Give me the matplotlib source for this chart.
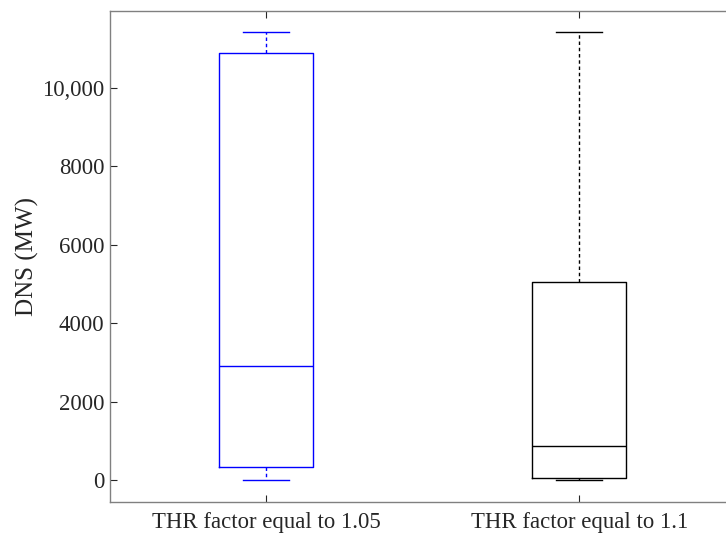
import matplotlib
matplotlib.use("Agg")
import matplotlib.pyplot as plt

# box statistics (MW)
labels = ["THR factor equal to 1.05", "THR factor equal to 1.1"]
whislo = [0, 5]
q1 = [331, 51]
med = [2912, 866]
q3 = [10879, 5052]
whishi = [11414, 11414]
colors = ["#0000ff", "#000000"]

yticks = [0, 2000, 4000, 6000, 8000, 10000]
ytick_labels = ["0", "2000", "4000", "6000", "8000", "10,000"]

plt.rcParams['font.family'] = ['Liberation Serif', 'DejaVu Serif']

fig = plt.figure(figsize=(7.26, 5.35), dpi=100)
# right edge of the axes runs past the figure, as in the reference
ax = fig.add_axes([110 / 726, (535 - 502) / 535, 625.6 / 726, 491 / 535])

for i in range(len(labels)):
    st = [{"whislo": whislo[i], "q1": q1[i], "med": med[i], "q3": q3[i],
           "whishi": whishi[i], "fliers": []}]
    c = colors[i]
    ax.bxp(st, positions=[i + 1], widths=0.3, showfliers=False,
           boxprops=dict(color=c, linewidth=1.0),
           medianprops=dict(color=c, linewidth=1.0),
           whiskerprops=dict(color=c, linewidth=1.0, linestyle=(0, (2.5, 2))),
           capprops=dict(color=c, linewidth=1.0),
           capwidths=0.147)

ax.set_xlim(0.5, 2.5)
ax.set_ylim(-553, 11957)
ax.set_xticks([1, 2])
ax.set_xticklabels(labels, fontsize=16.4, color="#262626")
ax.set_yticks(yticks)
ax.set_yticklabels(ytick_labels, fontsize=16.4, color="#262626")
ax.set_ylabel("DNS (MW)", fontsize=18, color="#262626", labelpad=2)
ax.tick_params(direction="in", length=5, width=0.8, color="#262626",
               top=True, right=True)
ax.tick_params(axis="x", pad=7)
ax.tick_params(axis="y", pad=4)
for s in ax.spines.values():
    s.set_color("#808080")
    s.set_linewidth(1.0)

fig.savefig("out.png", dpi=100)
